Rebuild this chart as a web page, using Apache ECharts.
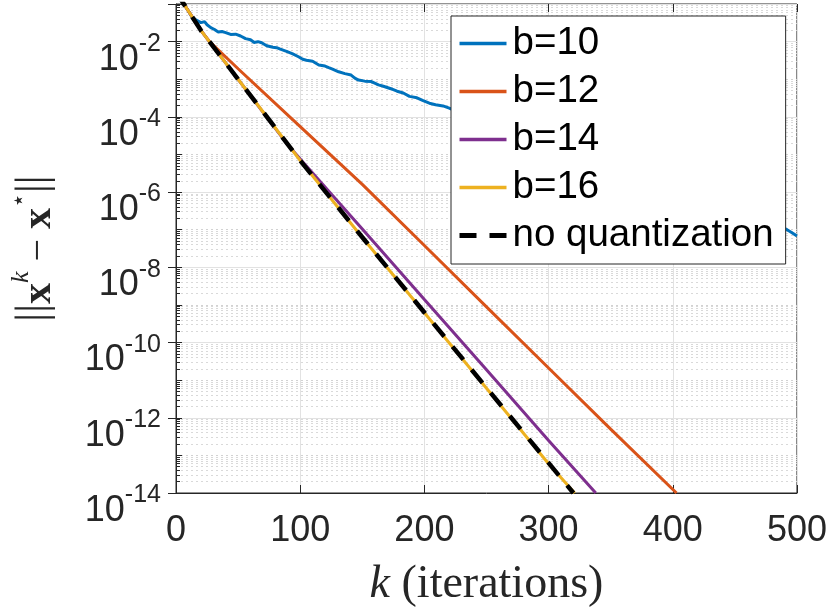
<!DOCTYPE html>
<html>
<head>
<meta charset="utf-8">
<script src="https://cdn.jsdelivr.net/npm/echarts@6/dist/echarts.min.js"></script>
<style>
html, body { margin: 0; padding: 0; background: #fff; }
#chart { width: 830px; height: 613px; }
</style>
</head>
<body>
<div id="chart"></div>
<script>
// series names as in the legend
var seriesNames = ['b=10', 'b=12', 'b=14', 'b=16', 'no quantization'];
var seriesColors = ['#0072BD', '#D95319', '#7E2F8E', '#EDB120', '#000000'];

// x ticks, y range
var xTicks = [0, 100, 200, 300, 400, 500];
var yMin = 1e-14;
var yMax = 1e-1;

// [k, ||x^k - x*||]
var b10 = [
    [0, 2.1e-1], [5, 1.17e-1], [10, 6.5e-2], [13, 4.4e-2], [16, 3.8e-2], [20, 3.2e-2],
    [23, 3.4e-2], [25, 2.8e-2], [28, 2.35e-2], [31, 2.1e-2], [34, 1.8e-2], [37, 1.86e-2],
    [40, 1.74e-2], [44, 1.55e-2], [48, 1.58e-2], [52, 1.41e-2], [56, 1.2e-2], [60, 1.12e-2],
    [63, 9.5e-3], [66, 1.0e-2], [69, 9.3e-3], [73, 7.8e-3], [78, 7.1e-3], [81, 6.9e-3],
    [84, 6.3e-3], [89, 5.5e-3], [94, 4.7e-3], [99, 3.9e-3], [102, 3.4e-3], [105, 3.2e-3],
    [110, 3.0e-3], [115, 2.4e-3], [120, 2.24e-3], [123, 2.04e-3], [126, 1.86e-3], [131, 1.58e-3],
    [136, 1.41e-3], [141, 1.29e-3], [144, 1.07e-3], [147, 9.5e-4], [152, 8.9e-4], [157, 8.7e-4],
    [160, 7.9e-4], [163, 7.1e-4], [167, 6.5e-4], [173, 5.6e-4], [178, 4.8e-4], [183, 4.3e-4],
    [188, 3.5e-4], [194, 3.2e-4], [199, 2.7e-4], [204, 2.3e-4], [209, 2.1e-4], [215, 1.95e-4],
    [220, 1.7e-4], [225, 1.45e-4], [230, 1.26e-4], [240, 1.0e-4], [250, 7.2e-5], [260, 5.8e-5],
    [270, 4.4e-5], [280, 3.2e-5], [290, 2.5e-5], [300, 1.95e-5], [310, 1.4e-5], [320, 1.12e-5],
    [330, 8.5e-6], [340, 6.5e-6], [350, 5.0e-6], [360, 3.6e-6], [370, 2.9e-6], [380, 2.2e-6],
    [390, 1.6e-6], [400, 1.3e-6], [410, 9.8e-7], [420, 7.2e-7], [430, 5.6e-7], [440, 4.4e-7],
    [450, 3.2e-7], [460, 2.5e-7], [470, 1.86e-7], [480, 1.45e-7], [488, 1.15e-7], [492, 1.0e-7],
    [496, 8.3e-8], [500, 6.8e-8]
];
var b12 = [
    [0, 2.1e-1], [20, 2.0e-2], [27, 1.0e-2], [50, 1.9e-3], [100, 5.5e-5], [150, 1.6e-6],
    [200, 3.8e-8], [250, 8.9e-10], [300, 2.1e-11], [350, 5.0e-13], [403, 1.0e-14]
];
var b14 = [
    [0, 2.1e-1], [20, 2.0e-2], [50, 1.0e-3], [90, 1.8e-5], [100, 7.6e-6], [150, 1.05e-7],
    [200, 1.4e-9], [250, 1.9e-11], [300, 2.5e-13], [338, 1.0e-14]
];
var b16 = [
    [0, 2.1e-1], [20, 2.0e-2], [50, 1.0e-3], [100, 6.9e-6], [150, 6.2e-8], [200, 6.2e-10],
    [250, 6.1e-12], [300, 6.0e-14], [321, 1.0e-14]
];
var noQuant = [
    [0, 2.1e-1], [20, 2.0e-2], [50, 1.0e-3], [100, 6.9e-6], [150, 6.3e-8], [200, 6.3e-10],
    [250, 6.3e-12], [300, 6.3e-14], [320, 1.0e-14]
];

var axisColor = '#262626';
var tickFont = 'Liberation Sans';
var serif = 'Liberation Serif';

function lineSeries(name, data, color) {
    return {
        name: name,
        type: 'line',
        data: data,
        symbol: 'none',
        clip: true,
        lineStyle: { color: color, width: 3 },
        itemStyle: { color: color }
    };
}

var series = [
    lineSeries(seriesNames[0], b10, seriesColors[0]),
    lineSeries(seriesNames[1], b12, seriesColors[1]),
    lineSeries(seriesNames[2], b14, seriesColors[2]),
    lineSeries(seriesNames[3], b16, seriesColors[3]),
    lineSeries(seriesNames[4], noQuant, seriesColors[4])
];
series[4].lineStyle.width = 4.5;
series[4].lineStyle.type = [17, 13];

// legend entries, thicker line samples like the figure
var legendData = seriesNames.map(function (name, i) {
    return {
        name: name,
        lineStyle: i === 4 ? { width: 5, type: [17, 13] } : { width: 3.5 }
    };
});

var myChart = echarts.init(document.getElementById('chart'), null, { renderer: 'canvas' });
var option = {
    animation: false,
    backgroundColor: '#ffffff',
    grid: {
        left: 160,
        right: 32,
        top: 4,
        bottom: 109,
        show: true,
        borderColor: axisColor,
        borderWidth: 1,
        backgroundColor: '#ffffff'
    },
    legend: {
        data: legendData,
        orient: 'vertical',
        left: 451,
        top: 16,
        padding: [8, 12, 9, 6],
        itemWidth: 47,
        itemHeight: 4,
        itemGap: 9,
        backgroundColor: '#ffffff',
        borderColor: axisColor,
        borderWidth: 1,
        borderRadius: 0,
        itemStyle: { opacity: 0 },
        textStyle: { fontSize: 38.5, fontFamily: tickFont, color: '#000', padding: [0, 0, 0, 1] }
    },
    xAxis: [{
        type: 'value',
        min: xTicks[0],
        max: xTicks[xTicks.length - 1],
        interval: xTicks[1] - xTicks[0],
        position: 'bottom',
        axisLine: { show: true, lineStyle: { color: axisColor, width: 1 } },
        axisTick: { show: true, inside: true, length: 8, lineStyle: { color: axisColor } },
        splitLine: { show: true, lineStyle: { color: '#e2e2e2', width: 1 } },
        axisLabel: { fontSize: 36, fontFamily: tickFont, color: axisColor, margin: 20 },
        name: '{i|k} (iterations)',
        nameLocation: 'middle',
        nameGap: 69,
        nameTextStyle: {
            fontSize: 46,
            fontFamily: serif,
            color: axisColor,
            rich: { i: { fontSize: 46, fontFamily: serif, fontStyle: 'italic', color: axisColor } }
        }
    }, {
        type: 'value',
        min: xTicks[0],
        max: xTicks[xTicks.length - 1],
        interval: xTicks[1] - xTicks[0],
        position: 'top',
        axisLine: { show: false },
        axisTick: { show: true, inside: true, length: 8, lineStyle: { color: axisColor } },
        splitLine: { show: false },
        axisLabel: { show: false }
    }],
    yAxis: [{
        // every decade: dotted grid + minor 2..9 dotted grid, labels on even powers
        type: 'log',
        logBase: 10,
        min: yMin,
        max: yMax,
        interval: 1,
        position: 'left',
        axisLine: { show: true, lineStyle: { color: axisColor, width: 1 } },
        axisTick: { show: true, inside: true, length: 6, lineStyle: { color: axisColor } },
        minorTick: { show: true, splitNumber: 9, length: 4, lineStyle: { color: axisColor } },
        splitLine: { show: true, lineStyle: { color: '#d2d2d2', width: 1, type: [2, 3] } },
        minorSplitLine: { show: true, lineStyle: { color: '#d9d9d9', width: 1, type: [2, 3] } },
        axisLabel: {
            margin: 15,
            padding: [26, 0, 0, 0],
            formatter: function (v) {
                var e = Math.round(Math.log(v) / Math.LN10);
                if (e % 2 !== 0) {
                    return '';
                }
                return '{b|10}{s|' + e + '}';
            },
            rich: {
                b: { fontSize: 36, fontFamily: tickFont, color: axisColor, padding: [10, 0, 0, 0] },
                s: { fontSize: 25, fontFamily: tickFont, color: axisColor, verticalAlign: 'top' }
            }
        },
        name: '{bar|||}{x|x}{sup|k}{op| − }{x|x}{star|⋆}{bar|||}',
        nameLocation: 'middle',
        nameRotate: 90,
        nameGap: 116,
        nameTextStyle: {
            fontSize: 40,
            fontFamily: serif,
            color: axisColor,
            rich: {
                bar: { fontSize: 44, fontFamily: serif, color: axisColor },
                x: { fontSize: 42, fontFamily: serif, fontWeight: 'bold', color: axisColor, padding: [10, 0, 0, 0] },
                sup: { fontSize: 26, fontFamily: serif, fontStyle: 'italic', color: axisColor, verticalAlign: 'top' },
                op: { fontSize: 40, fontFamily: serif, color: axisColor, padding: [10, 0, 0, 0] },
                star: { fontSize: 24, fontFamily: 'DejaVu Sans', color: axisColor, verticalAlign: 'top' }
            }
        }
    }, {
        // even powers: solid major grid, right box ticks
        type: 'log',
        logBase: 10,
        min: yMin,
        max: yMax,
        interval: 2,
        position: 'right',
        axisLine: { show: false },
        axisTick: { show: true, inside: true, length: 8, lineStyle: { color: axisColor } },
        splitLine: { show: true, lineStyle: { color: '#e2e2e2', width: 1 } },
        axisLabel: { show: false }
    }],
    series: series
};
myChart.setOption(option);
</script>
</body>
</html>
